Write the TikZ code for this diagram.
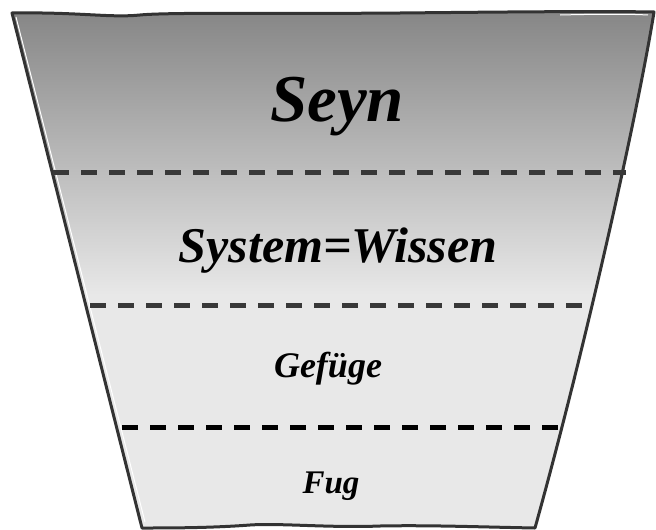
\documentclass[tikz,border=0pt]{standalone}
\usepackage{fontspec}
\setmainfont{Liberation Serif}
\definecolor{topgray}{HTML}{858585}
\definecolor{lowgray}{HTML}{E8E8E8}
\definecolor{edgegray}{HTML}{333333}
\begin{document}
\begin{tikzpicture}[x=1pt,y=-1pt,
  lbl/.style={anchor=base,inner sep=0pt,text=black},
  sep/.style={line width=5pt,dash pattern=on 16pt off 12pt},
  rim/.style={draw=edgegray,line width=3pt,line join=round}]
\useasboundingbox (0,0) rectangle (656,530);
% corner coordinates
\coordinate (tl) at (12,13);
\coordinate (tr) at (654,12);
\coordinate (br) at (535,528);
\coordinate (bl) at (142,528);
\def\funnelpath{(tl) .. controls (80,12) and (110,18) .. (140,15)
  .. controls (170,12) and (300,14) .. (400,13)
  .. controls (500,12) and (600,11) .. (tr)
  .. controls (640,100) and (590,330) .. (br)
  .. controls (480,527) and (430,525) .. (380,526)
  .. controls (330,528) and (280,523) .. (250,525)
  .. controls (210,528) and (170,528) .. (bl) -- cycle}
\begin{scope}
  \clip \funnelpath;
  \fill[lowgray] (0,0) rectangle (656,530);
  \shade[top color=topgray,bottom color=lowgray] (0,8) rectangle (656,295);
\end{scope}
% inner highlight
\draw[white,line width=1pt] (16,17) -- (145,522);
\draw[white,line width=1pt] (560,15) .. controls (600,14) and (630,14) .. (648,15);
\draw[rim] \funnelpath;
% separators
\coordinate (s1l) at (53,172);  \coordinate (s1r) at (626,172);
\coordinate (s2l) at (90,305);  \coordinate (s2r) at (585,305);
\coordinate (s3l) at (122,427); \coordinate (s3r) at (558,427);
\draw[sep,black!78] (s1l) -- (s1r);
\draw[sep,black!78] (s2l) -- (s2r);
\draw[sep,black] (s3l) -- (s3r);
% labels
\node[lbl,font=\fontsize{67}{70}\selectfont\bfseries\itshape] (seyn) at (337,121) {Seyn};
\node[lbl,font=\fontsize{50}{54}\selectfont\bfseries\itshape] (sys) at (338,262) {System=Wissen};
\node[lbl,font=\fontsize{36}{40}\selectfont\bfseries\itshape] (gef) at (328,377) {Gefüge};
\node[lbl,font=\fontsize{33}{36}\selectfont\bfseries\itshape] (fug) at (331,493) {Fug};
\end{tikzpicture}
\end{document}
